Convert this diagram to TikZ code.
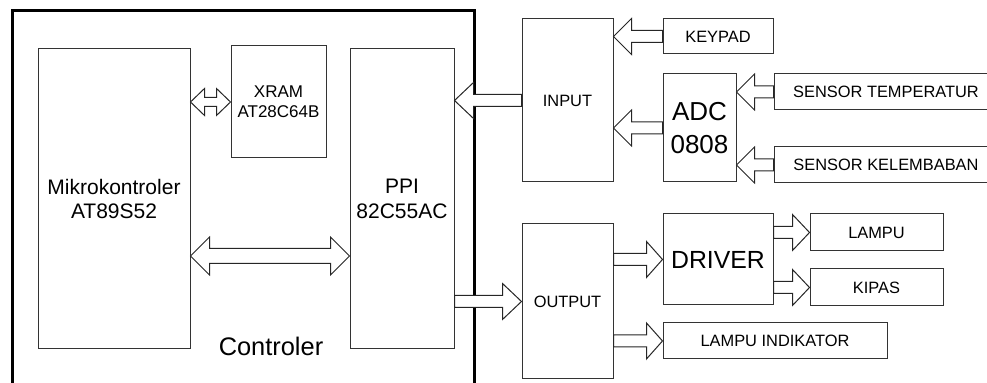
\documentclass[tikz,border=0pt]{standalone}
\usepackage{fontspec}
\setmainfont{Liberation Sans}
\usetikzlibrary{calc,positioning}
\tikzset{
  blkbox/.style={draw=black!80, line width=0.5pt, align=center, inner sep=2pt},
  blkchip/.style={blkbox, font=\fontsize{10.5}{12.3}\selectfont},
  blkram/.style={blkbox, font=\fontsize{8.5}{10}\selectfont},
  blkport/.style={blkbox, font=\fontsize{8.2}{10}\selectfont},
  blkbig/.style={blkbox, font=\fontsize{13}{16.5}\selectfont},
  blkframe/.style={draw, line width=1.5pt},
  blklabel/.style={font=\fontsize{12.7}{15}\selectfont},
  arrbody/.store in=\arrbody, arrhead/.store in=\arrhead, arrlen/.store in=\arrlen,
  arrbody=3pt, arrhead=9pt, arrlen=9pt,
  blkarrow/.style={draw=black!85, fill=white, line width=0.5pt, to path={
    let \p1=(\tikztostart), \p2=(\tikztotarget), \n1={ifthenelse(\x2>\x1,1,-1)} in
    ({\x1},{\y1+\arrbody}) -- ({\x2-(\n1)*\arrlen},{\y1+\arrbody}) -- ({\x2-(\n1)*\arrlen},{\y1+\arrhead})
    -- ({\x2},{\y1}) -- ({\x2-(\n1)*\arrlen},{\y1-\arrhead}) -- ({\x2-(\n1)*\arrlen},{\y1-\arrbody})
    -- ({\x1},{\y1-\arrbody}) -- cycle}},
  blkdouble/.style={draw=black!85, fill=white, line width=0.5pt, to path={
    let \p1=(\tikztostart), \p2=(\tikztotarget), \n1={ifthenelse(\x2>\x1,1,-1)} in
    ({\x1},{\y1}) -- ({\x1+(\n1)*\arrlen},{\y1+\arrhead}) -- ({\x1+(\n1)*\arrlen},{\y1+\arrbody})
    -- ({\x2-(\n1)*\arrlen},{\y1+\arrbody}) -- ({\x2-(\n1)*\arrlen},{\y1+\arrhead}) -- ({\x2},{\y1})
    -- ({\x2-(\n1)*\arrlen},{\y1-\arrhead}) -- ({\x2-(\n1)*\arrlen},{\y1-\arrbody})
    -- ({\x1+(\n1)*\arrlen},{\y1-\arrbody}) -- ({\x1+(\n1)*\arrlen},{\y1-\arrhead}) -- cycle}}
}
\begin{document}
\begin{tikzpicture}[x=0.5pt, y=-0.5pt]
\useasboundingbox (0,0) rectangle (987,383);
\clip (0,0) rectangle (987,383);

\node[blkchip, minimum width=76pt, minimum height=150pt] (mcu) at (114,199) {Mikrokontroler\\AT89S52};
\node[blkchip, minimum width=52pt, minimum height=150pt, right=79.5pt of mcu] (ppi) {PPI\\82C55AC};
\node[blkram, minimum width=47.5pt, minimum height=56pt] (xram) at (278.5,102) {XRAM\\AT28C64B};

\node[blkport, minimum width=45.5pt, minimum height=81.5pt] (input) at (567.5,100.5) {INPUT};
\node[blkport, minimum width=45.5pt, minimum height=77.5pt, below=20.5pt of input] (output) {OUTPUT};
\node[blkport, minimum width=55pt, minimum height=17.5pt] (keypad) at (718,36.5) {KEYPAD};
\node[blkbig, minimum width=36.5pt, minimum height=54pt] (adc) at (699.5,128) {ADC\\0808};
\node[blkport, minimum width=112pt, minimum height=18pt] (stemp) at (886,92) {SENSOR TEMPERATUR};
\node[blkport, minimum width=112pt, minimum height=18pt, below=18pt of stemp] (skelem) {SENSOR KELEMBABAN};
\node[blkbox, font=\fontsize{12.4}{15}\selectfont, minimum width=55pt, minimum height=45.5pt] (driver) at (718,259.5) {DRIVER};
\node[blkport, minimum width=66.5pt, minimum height=18.5pt] (lampu) at (876.5,232.5) {LAMPU};
\node[blkport, minimum width=66.5pt, minimum height=18.5pt, below=8.5pt of lampu] (kipas) {KIPAS};
\node[blkport, minimum width=112pt, minimum height=18pt] (lampuind) at (775,341) {LAMPU INDIKATOR};

\draw[blkframe] (12,395) |- (474,11) -- (474,395);
\node[blklabel] (ctrllabel) at (271,346) {Controler};
\coordinate (bus) at ($(mcu.east)+(0,-28.5pt)$);

\draw[blkdouble, arrbody=2.25pt, arrhead=6.75pt, arrlen=7pt] (mcu.east |- xram) to (xram.west);
\draw[blkdouble, arrbody=3.75pt, arrhead=9.5pt, arrlen=9.5pt] (bus) to (ppi.west |- bus);
\draw[blkarrow, arrlen=9.5pt] (input.west) to (ppi.east |- input);
\draw[blkarrow] (keypad.west) to (input.east |- keypad);
\draw[blkarrow] (adc.west) to (input.east |- adc);
\draw[blkarrow] (stemp.west) to (adc.east |- stemp);
\draw[blkarrow] (skelem.west) to (adc.east |- skelem);
\draw[blkarrow, arrlen=9.5pt] (ppi.east |- output) to (output.west);
\draw[blkarrow, arrlen=8pt] (output.east |- driver) to (driver.west);
\draw[blkarrow, arrlen=8.5pt] (driver.east |- lampu) to (lampu.west);
\draw[blkarrow, arrlen=8.5pt] (driver.east |- kipas) to (kipas.west);
\draw[blkarrow, arrlen=8pt] (output.east |- lampuind) to (lampuind.west);
\end{tikzpicture}
\end{document}
